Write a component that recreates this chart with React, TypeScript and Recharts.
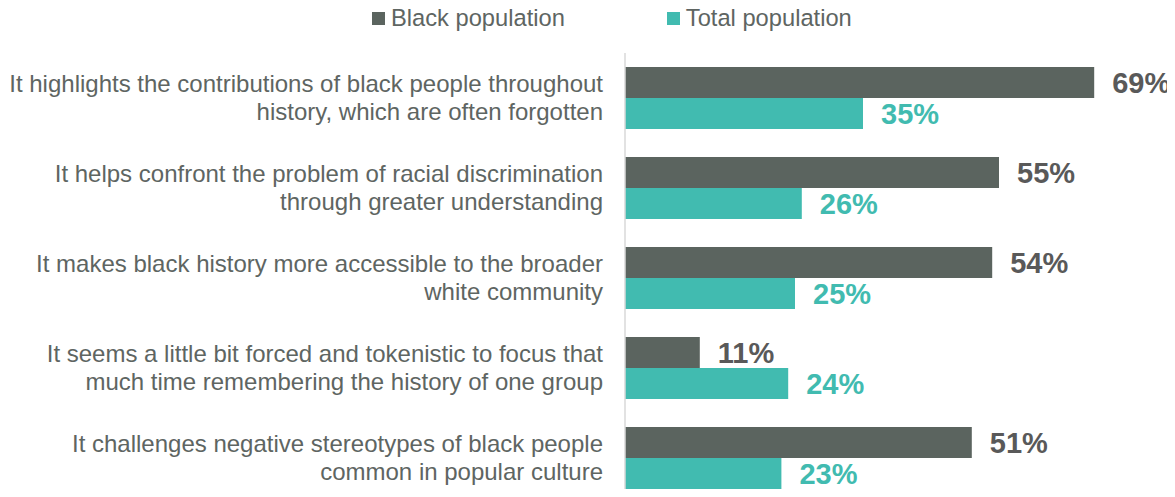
import { BarChart, Bar, XAxis, YAxis, Legend, LabelList } from "recharts"

// Statements, split into the two lines shown on the axis
const statements = [
  "It highlights the contributions of black people throughout\nhistory, which are often forgotten",
  "It helps confront the problem of racial discrimination\nthrough greater understanding",
  "It makes black history more accessible to the broader\nwhite community",
  "It seems a little bit forced and tokenistic to focus that\nmuch time remembering the history of one group",
  "It challenges negative stereotypes of black people\ncommon in popular culture",
]
const blackPopulation = [69, 55, 54, 11, 51]
const totalPopulation = [35, 26, 25, 24, 23]

const data = statements.map((s, i) => ({
  name: s,
  black: blackPopulation[i],
  total: totalPopulation[i],
}))

const DARK = "#5b645f"
const TEAL = "#41bbb0"
const TEXT = "#5e6562"
const FONT = "Liberation Sans, Arial, sans-serif"

const StatementTick = (props: any) => {
  const { x, y, payload } = props
  const lines = String(payload.value).split("\n")
  return (
    <text x={x} y={y} textAnchor="end" fill={TEXT} fontSize={24} fontFamily={FONT}>
      {lines.map((l, i) => (
        <tspan key={i} x={x} dy={i === 0 ? -6 : 28}>{l}</tspan>
      ))}
    </text>
  )
}

const LegendContent = () => (
  <div style={{ height: 28, display: "flex", alignItems: "center", fontFamily: FONT, fontSize: 23.7, color: TEXT }}>
    <span style={{ display: "flex", alignItems: "center", marginLeft: 364 }}>
      <span style={{ width: 13, height: 13, background: DARK, marginRight: 6 }} />Black population
    </span>
    <span style={{ display: "flex", alignItems: "center", marginLeft: 102 }}>
      <span style={{ width: 13, height: 13, background: TEAL, marginRight: 6 }} />Total population
    </span>
  </div>
)

export default function App() {
  // the plot runs a little past the bottom of the window, as in the source
  return (
    <div style={{ width: 1167, height: 481, marginTop: -8, paddingTop: 8, overflow: "hidden" }}>
      <BarChart
        width={1167}
        height={495}
        data={data}
        layout="vertical"
        margin={{ top: 17, right: 6, bottom: 0, left: 0 }}
        barGap={0}
        style={{ overflow: "visible" }}
      >
        <XAxis type="number" domain={[0, 80]} hide />
        <YAxis
          type="category"
          dataKey="name"
          width={617}
          axisLine={{ stroke: "#d9d9d9", strokeWidth: 1.5 }}
          tickLine={false}
          tickSize={0}
          tickMargin={22}
          tick={<StatementTick />}
          interval={0}
        />
        <Legend verticalAlign="top" content={<LegendContent />} wrapperStyle={{ top: -4, left: 0, width: 1167 }} />
        <Bar dataKey="black" name="Black population" fill={DARK} barSize={31} isAnimationActive={false}>
          <LabelList
            dataKey="black"
            position="right"
            offset={18}
            formatter={(v: any) => `${v}%`}
            style={{ fill: "#595959", fontSize: 29, fontWeight: "bold", fontFamily: FONT }}
          />
        </Bar>
        <Bar dataKey="total" name="Total population" fill={TEAL} barSize={31} isAnimationActive={false}>
          <LabelList
            dataKey="total"
            position="right"
            offset={18}
            formatter={(v: any) => `${v}%`}
            style={{ fill: TEAL, fontSize: 29, fontWeight: "bold", fontFamily: FONT }}
          />
        </Bar>
      </BarChart>
    </div>
  )
}
